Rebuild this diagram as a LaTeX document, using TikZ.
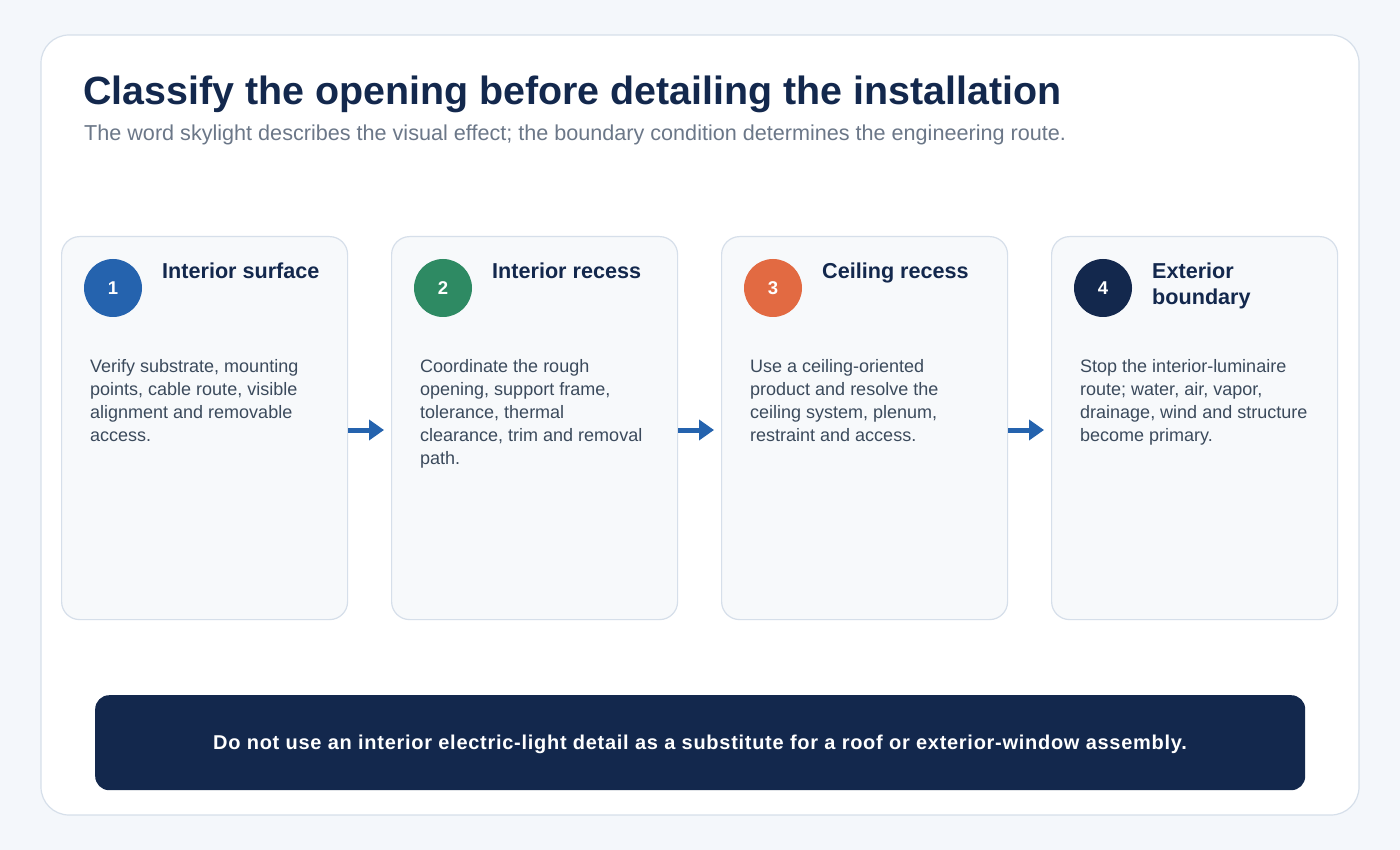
\documentclass[tikz,border=0pt]{standalone}
\usepackage{fontspec}
\setmainfont{Liberation Sans}
\usetikzlibrary{arrows.meta}
\definecolor{pagebg}{HTML}{F4F7FB}
\definecolor{linegray}{HTML}{D6DFEA}
\definecolor{cardfill}{HTML}{F7F9FB}
\definecolor{navy}{HTML}{13284D}
\definecolor{subgray}{HTML}{6B7788}
\definecolor{bodytext}{HTML}{3B4A5C}
\definecolor{cblue}{HTML}{2563AE}
\definecolor{cgreen}{HTML}{2E8A63}
\definecolor{corange}{HTML}{E26A42}
\tikzset{
  panel/.style={draw=linegray, line width=1.2pt, fill=white, rounded corners=28pt},
  card/.style={draw=linegray, line width=1.2pt, fill=cardfill, rounded corners=18pt, minimum width=286pt, minimum height=383pt, anchor=north west, inner sep=0pt},
  badge/.style={circle, minimum size=58pt, inner sep=0pt, text=white, font=\fontsize{18.5}{22}\selectfont\bfseries},
  cardtitle/.style={anchor=base west, inner sep=0pt, text=navy, align=left, font=\fontsize{21.6}{26}\selectfont\bfseries},
  bodytxt/.style={anchor=base west, inner sep=0pt, text=bodytext, align=left, font=\fontsize{18}{23}\selectfont},
  flow/.style={draw=cblue, line width=5pt, -{Triangle[length=15pt,width=20pt]}},
}
\begin{document}
\begin{tikzpicture}[x=1pt,y=-1pt]
\useasboundingbox (0,0) rectangle (1400,850);
\fill[pagebg] (0,0) rectangle (1400,850);
\draw[panel] (41,35) rectangle (1359,815);

\node[anchor=base west, inner sep=0pt, text=navy, font=\fontsize{39.4}{44}\selectfont\bfseries] (title) at (83,104.5) {Classify the opening before detailing the installation};
\node[anchor=base west, inner sep=0pt, text=subgray, font=\fontsize{21.6}{24}\selectfont] (subtitle) at (84,141) {The word skylight describes the visual effect; the boundary condition determines the engineering route.};

% cards
\node[card] (c1) at (61,236) {};
\node[card] (c2) at (391,236) {};
\node[card] (c3) at (721,236) {};
\node[card] (c4) at (1051,236) {};

\node[badge, fill=cblue] (b1) at (113,288) {1};
\node[badge, fill=cgreen] (b2) at (443,288) {2};
\node[badge, fill=corange] (b3) at (773,288) {3};
\node[badge, fill=navy] (b4) at (1103,288) {4};

\node[cardtitle] (t1) at (162,279) {Interior surface};
\node[cardtitle] (t2) at (492,279) {Interior recess};
\node[cardtitle] (t3) at (822,279) {Ceiling recess};
\node[cardtitle, anchor=north west] (t4) at (1152,263) {Exterior\\boundary};

\node[bodytxt, anchor=north west] (d1) at (90,359) {Verify substrate, mounting\\points, cable route, visible\\alignment and removable\\access.};
\node[bodytxt, anchor=north west] (d2) at (420,359) {Coordinate the rough\\opening, support frame,\\tolerance, thermal\\clearance, trim and removal\\path.};
\node[bodytxt, anchor=north west] (d3) at (750,359) {Use a ceiling-oriented\\product and resolve the\\ceiling system, plenum,\\restraint and access.};
\node[bodytxt, anchor=north west] (d4) at (1080,359) {Stop the interior-luminaire\\route; water, air, vapor,\\drainage, wind and structure\\become primary.};

\coordinate (a1s) at (348,430); \coordinate (a1e) at (384,430);
\coordinate (a2s) at (678,430); \coordinate (a2e) at (714,430);
\coordinate (a3s) at (1008,430); \coordinate (a3e) at (1044,430);
\draw[flow] (a1s) -- (a1e);
\draw[flow] (a2s) -- (a2e);
\draw[flow] (a3s) -- (a3e);

\node[fill=navy, rounded corners=14pt, minimum width=1210pt, minimum height=95pt, inner sep=0pt, anchor=north west] (banner) at (95,695) {};
\node[text=white, inner sep=0pt, font=\fontsize{20}{22}\selectfont\bfseries\addfontfeature{LetterSpace=3.6}] (bannertext) at (700,744) {Do not use an interior electric-light detail as a substitute for a roof or exterior-window assembly.};
\end{tikzpicture}
\end{document}
